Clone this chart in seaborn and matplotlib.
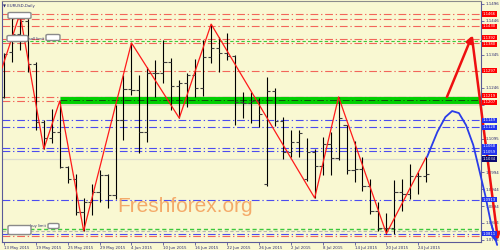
import matplotlib
matplotlib.use("Agg")
import matplotlib.pyplot as plt
import matplotlib.transforms as mtrans
from matplotlib.patches import FancyBboxPatch
import numpy as np
import pandas as pd
import seaborn as sns

# ------------------------------------------------------------------ data
date_labels = ["13 May 2015", "19 May 2015", "25 May 2015", "29 May 2015",
               "4 Jun 2015", "10 Jun 2015", "16 Jun 2015", "22 Jun 2015",
               "26 Jun 2015", "2 Jul 2015", "8 Jul 2015", "14 Jul 2015",
               "20 Jul 2015", "24 Jul 2015"]
date_label_bars = [0, 4, 8, 12, 16, 20, 24, 28, 32, 36, 40, 44, 48, 52]

opens = [1.1218, 1.1353, 1.1408, 1.1446, 1.1316, 1.1143, 1.1097, 1.1115, 1.1010, 1.0976,
         1.0875, 1.0905, 1.0935, 1.0986, 1.0927, 1.1150, 1.1243, 1.1240, 1.1115, 1.1290,
         1.1290, 1.1323, 1.1252, 1.1262, 1.1283, 1.1245, 1.1338, 1.1365, 1.1350, 1.1340,
         1.1204, 1.1200, 1.1208, 1.0960, 1.1236, 1.1147, 1.1055, 1.1085, 1.0975, 1.1055,
         1.1014, 1.1079, 1.1037, 1.1135, 1.1000, 1.1003, 1.0955, 1.0878, 1.0830, 1.0828,
         1.0935, 1.0930, 1.0982, 1.0984]
highs = [1.1351, 1.1457, 1.1467, 1.1450, 1.1323, 1.1150, 1.1183, 1.1207, 1.1013, 1.0990,
         1.0918, 1.0960, 1.1000, 1.0990, 1.1195, 1.1285, 1.1380, 1.1284, 1.1308, 1.1330,
         1.1389, 1.1335, 1.1270, 1.1290, 1.1332, 1.1389, 1.1436, 1.1398, 1.1410, 1.1344,
         1.1234, 1.1234, 1.1216, 1.1278, 1.1246, 1.1160, 1.1121, 1.1121, 1.1097, 1.1065,
         1.1100, 1.1115, 1.1219, 1.1135, 1.1088, 1.1040, 1.0975, 1.0906, 1.0872, 1.0972,
         1.0975, 1.1020, 1.0996, 1.1040]
lows = [1.1217, 1.1323, 1.1360, 1.1292, 1.1121, 1.1064, 1.1082, 1.1007, 1.0963, 1.0866,
        1.0820, 1.0868, 1.0905, 1.0888, 1.0915, 1.1090, 1.1225, 1.1052, 1.1085, 1.1218,
        1.1260, 1.1180, 1.1156, 1.1190, 1.1220, 1.1222, 1.1320, 1.1293, 1.1330, 1.1135,
        1.1156, 1.1140, 1.1130, 1.0955, 1.1133, 1.1035, 1.1040, 1.1040, 1.0968, 1.0918,
        1.0985, 1.0986, 1.1030, 1.0990, 1.0966, 1.0940, 1.0870, 1.0820, 1.0812, 1.0812,
        1.0878, 1.0915, 1.0930, 1.0966]
closes = [1.1347, 1.1408, 1.1446, 1.1316, 1.1143, 1.1097, 1.1115, 1.1010, 1.0976, 1.0875,
          1.0905, 1.0935, 1.0986, 1.0927, 1.1150, 1.1243, 1.1240, 1.1115, 1.1290, 1.1290,
          1.1323, 1.1252, 1.1262, 1.1283, 1.1245, 1.1338, 1.1365, 1.1350, 1.1340, 1.1204,
          1.1200, 1.1208, 1.1168, 1.1236, 1.1146, 1.1055, 1.1085, 1.1112, 1.1055, 1.1014,
          1.1079, 1.1037, 1.1155, 1.1000, 1.1003, 1.0955, 1.0878, 1.0830, 1.0828, 1.0935,
          1.0930, 1.0982, 1.0984, 1.0990]

zigzag_bar = [-0.25, 2, 5, 7, 10, 16, 22, 26, 39, 42, 48, 53]
zigzag_price = [1.1305, 1.1467, 1.1064, 1.1207, 1.0820, 1.1380, 1.1156, 1.1436,
                1.0918, 1.1219, 1.0812, 1.1040]

forecast_bar = [53.1, 54.4, 55.4, 56.25, 57.1, 58.0, 58.9, 59.6, 60.4, 61.1, 61.9]
forecast_price = [1.1040, 1.1115, 1.1159, 1.1177, 1.1171, 1.1135, 1.1076, 1.1007,
                  1.0927, 1.0846, 1.0778]

arrow_up_bar = [55.6, 58.75]
arrow_up_price = [1.1219, 1.1401]
arrow_down_bar = [58.75, 62.0]
arrow_down_price = [1.1395, 1.0793]

red_levels = [1.1466, 1.1452, 1.1430, 1.1392, 1.1380, 1.1297, 1.1219, 1.1207, 1.0806]
red_level_boxed = [True, False, True, True, True, True, True, True, False]
green_levels = [1.1386, 1.0826]
blue_levels = [1.1149, 1.1128, 1.1068, 1.1059, 1.0913, 1.0811]
blue_level_boxed = [True, True, True, True, True, True]
grey_levels = [1.0820]
bid_level = 1.1034
support_level = 1.1210
support_start_bar = 7

axis_ticks = [1.1496, 1.1446, 1.1395, 1.1345, 1.1295, 1.1246, 1.1196, 1.1145,
              1.1095, 1.1044, 1.0994, 1.0944, 1.0894, 1.0844, 1.0794]

# ------------------------------------------------------------------ style
W, H = 500, 250
BG = "#F9F8D2"
RED = "#FF1A1A"
LRED = "#F2665A"
BLUE = "#4C4CF0"
GREEN = "#3CC83C"
AXC = "#5A5A98"
TXT = "#2A2A70"

sns.set_theme(style="white")
plt.rcParams["font.family"] = ["DejaVu Sans"]

fig = plt.figure(figsize=(W / 100, H / 100), dpi=100, facecolor=BG)
ax = fig.add_axes([2 / W, 8 / H, 479 / W, 241 / H])
ax.set_facecolor(BG)
ax.set_xlim(-0.25, 59.875)
ax.set_ylim(1.07868, 1.15049)

dd = (0, (7, 2.5, 1.2, 2.5))
for p in red_levels:
    ax.axhline(p, color=LRED, lw=0.8, ls=dd, zorder=1)
for p in blue_levels:
    ax.axhline(p, color=BLUE, lw=0.8, ls=dd, zorder=1)
ax.axhline(green_levels[0], color=GREEN, lw=0.8, ls=(0, (3, 2)), zorder=1)
ax.axhline(green_levels[1], color=GREEN, lw=1.0, ls=(0, (3, 2)), zorder=1)
for p in grey_levels:
    ax.axhline(p, color="#B8B8B0", lw=0.8, ls=(0, (3, 2)), zorder=1)
ax.axhline(bid_level, color="#DCDCD0", lw=0.9, zorder=1)

# support band
xe = ax.get_xlim()[1]
ax.plot([support_start_bar, xe], [support_level - 0.0004] * 2, color="#9A9A80",
        lw=7, alpha=0.25, solid_capstyle="butt", zorder=2)
ax.plot([support_start_bar, xe], [support_level] * 2, color="#00D000",
        lw=5, solid_capstyle="butt", zorder=2)
ax.plot([support_start_bar, xe], [support_level] * 2, color="#105010",
        lw=0.7, ls=dd, zorder=2)

# OHLC bars
idx = np.arange(len(opens))
ax.vlines(idx, lows, highs, color="black", lw=0.8, zorder=3)
ax.hlines(opens, idx - 0.4, idx, color="#404040", lw=0.8, zorder=3)
ax.hlines(closes, idx, idx + 0.4, color="#404040", lw=0.8, zorder=3)

# zigzag
zz = pd.DataFrame({"bar": zigzag_bar, "price": zigzag_price})
sns.lineplot(data=zz, x="bar", y="price", ax=ax, color=RED, lw=0.9,
             sort=False, estimator=None, zorder=4)

# forecast curve
fc = pd.DataFrame({"bar": forecast_bar, "price": forecast_price})
sns.lineplot(data=fc, x="bar", y="price", ax=ax, color="#2A3CE8", lw=1.3,
             sort=False, estimator=None, zorder=5)
ax.lines[-1].set_clip_on(False)
ax.annotate("", xy=(forecast_bar[-1], forecast_price[-1]),
            xytext=(forecast_bar[-2], forecast_price[-2]),
            arrowprops=dict(arrowstyle="-|>", color="#2A3CE8", lw=1.2,
                            mutation_scale=9), annotation_clip=False, zorder=5)

# red arrows
for bx, py in ((arrow_up_bar, arrow_up_price), (arrow_down_bar, arrow_down_price)):
    ax.annotate("", xy=(bx[1], py[1]), xytext=(bx[0], py[0]),
                arrowprops=dict(arrowstyle="-|>", color="#EE1010", lw=1.8,
                                mutation_scale=9, shrinkA=0, shrinkB=0),
                annotation_clip=False, zorder=6)

# axes
ax.set_xlabel("")
ax.set_ylabel("")
for s in ("left", "right", "bottom"):
    ax.spines[s].set_color(AXC)
    ax.spines[s].set_linewidth(0.8)
    ax.spines[s].set_visible(True)
ax.spines["top"].set_color("#8C8C8C")
ax.spines["top"].set_linewidth(0.8)
ax.spines["top"].set_visible(True)

ax.set_xticks(date_label_bars)
ax.set_xticklabels(date_labels, fontsize=2.8, color=TXT, ha="left")
ax.tick_params(axis="x", bottom=True, length=2, width=0.6, color=AXC, pad=0.8,
               direction="out")

# price boxes: collect boxed levels, hide plain tick labels hidden behind them
boxed = ([(p, "#FF0000") for p, b in zip(red_levels, red_level_boxed) if b] +
         [(p, "#2233EE") for p, b in zip(blue_levels, blue_level_boxed) if b] +
         [(bid_level, "#0A0A70")])
ax.yaxis.tick_right()
ax.set_yticks(axis_ticks)
tick_txt = []
for v in axis_ticks:
    hidden = any(abs(v - p) < 0.0013 for p, _ in boxed)
    tick_txt.append("" if hidden else f"{v:.4f}")
ax.set_yticklabels(tick_txt, fontsize=2.9, color=TXT)
ax.tick_params(axis="y", right=True, left=False, length=2, width=0.6, color=AXC,
               pad=1, direction="out")
ax.grid(False)

tr = mtrans.blended_transform_factory(ax.transAxes, ax.transData)
boxed_sorted = sorted(boxed, key=lambda t: -t[0])
for i, (p, col) in enumerate(boxed_sorted):
    # nudge pairs that sit very close so they stack like the reference
    off = 0.0
    if i > 0 and boxed_sorted[i - 1][0] - p < 0.0014:
        off = -0.0004
    if i < len(boxed_sorted) - 1 and p - boxed_sorted[i + 1][0] < 0.0014:
        off = 0.0004
    ax.text(1.004, p + off, f"{p:.4f}", transform=tr, ha="left", va="center",
            fontsize=2.7, color="white", zorder=10 + i, clip_on=False,
            bbox=dict(boxstyle="square,pad=0.15", fc=col, ec="none"))

# title
fig.text(3 / W, 1 - 6 / H, "\u25BC EURUSD,Daily", fontsize=2.8, color=TXT,
         va="center", ha="left")

# order label boxes (top-left and bottom-left)
def label_box(x0, y0, x1, y1):
    p = FancyBboxPatch((x0 / W, 1 - y1 / H), (x1 - x0) / W, (y1 - y0) / H,
                       boxstyle="round,pad=0.002,rounding_size=0.004",
                       fc="white", ec="#8A8A8A", lw=1.0,
                       transform=fig.transFigure, zorder=20)
    fig.patches.append(p)
label_box(9, 13, 30, 18)
label_box(8, 36, 27, 41)
label_box(47, 35, 59, 40)
label_box(9, 226, 30, 234)
label_box(49, 224, 58, 228)
fig.text(29 / W, 1 - 38.5 / H, "sell limit", fontsize=2.6, color=TXT, va="center")
fig.text(30 / W, 1 - 226 / H, "buy limit", fontsize=2.6, color=TXT, va="center")

# watermark
fig.text(117 / W, 1 - 212 / H, "Freshforex.org", fontsize=15, color="#F4A25E",
         alpha=0.9, family=["Liberation Sans", "DejaVu Sans"], va="baseline",
         ha="left", zorder=15)

fig.savefig("out.png", dpi=100, facecolor=BG)
